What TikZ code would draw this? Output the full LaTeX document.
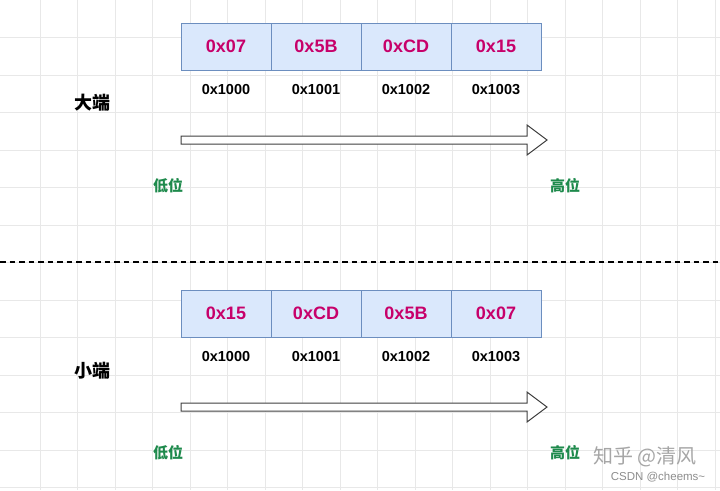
\documentclass[tikz,border=0pt]{standalone}
\usepackage{fontspec}
\setmainfont{Liberation Sans}
\newfontfamily\cjk{Noto Sans CJK SC}
\usetikzlibrary{positioning}
\definecolor{cellfill}{HTML}{DAE8FC}
\definecolor{celldraw}{HTML}{6C8EBF}
\definecolor{valtext}{HTML}{C7006A}
\definecolor{postext}{HTML}{1E8A4C}
\definecolor{gridline}{HTML}{E8E8E8}
\definecolor{marktext}{HTML}{A6A6A6}
\begin{document}
\begin{tikzpicture}[x=1pt,y=-1pt,
        cell/.style={draw=celldraw, fill=cellfill, line width=0.8pt,
            minimum width=90pt, minimum height=47pt, inner sep=0pt, outer sep=0pt,
            text=valtext, font=\fontsize{18}{20}\selectfont\bfseries},
        addr/.style={font=\fontsize{14.5}{16}\selectfont\bfseries},
        endian/.style={font=\cjk\fontsize{18}{20}\selectfont\bfseries},
        side/.style={text=postext, font=\cjk\fontsize{15}{17}\selectfont\bfseries},
        hollow/.style={draw=black!75, fill=white, line width=1pt, line join=miter}]
    % page and grid
    \fill[white] (0,0) rectangle (720,490);
    \useasboundingbox (0,0) rectangle (720,490);
    \foreach \x in {40,77.5,...,716}
        \draw[gridline, line width=0.6pt] (\x,0) -- (\x,490);
    \foreach \y in {37.5,75,...,488}
        \draw[gridline, line width=0.6pt] (0,\y) -- (720,\y);

    % big endian
    \node[cell] (big1) at (226,46.5) {0x07};
    \node[cell, right=0pt of big1] (big2) {0x5B};
    \node[cell, right=0pt of big2] (big3) {0xCD};
    \node[cell, right=0pt of big3] (big4) {0x15};
    \node[addr, below=11pt of big1] (bigaddr1) {0x1000};
    \node[addr, below=11pt of big2] (bigaddr2) {0x1001};
    \node[addr, below=11pt of big3] (bigaddr3) {0x1002};
    \node[addr, below=11pt of big4] (bigaddr4) {0x1003};
    \node[endian] (bigname) at (92,103) {大端};
    \coordinate (bigfrom) at (181,140);
    \coordinate (bigto) at (547,140);
    \draw[hollow] (bigfrom) ++(0,-4) -- ++(346,0) -- ++(0,-11) -- (bigto)
        -- ++(-20,15) -- ++(0,-11) -- ++(-346,0) -- cycle;
    \node[side] (biglow) at (168,186) {低位};
    \node[side] (bighigh) at (565,186) {高位};

    % cut
    \coordinate (cutleft) at (0,262);
    \coordinate (cutright) at (720,262);
    \draw[line width=1.6pt, dash pattern=on 5.5pt off 4pt] (cutleft) -- (cutright);

    % little endian
    \node[cell] (little1) at (226,313.5) {0x15};
    \node[cell, right=0pt of little1] (little2) {0xCD};
    \node[cell, right=0pt of little2] (little3) {0x5B};
    \node[cell, right=0pt of little3] (little4) {0x07};
    \node[addr, below=11pt of little1] (littleaddr1) {0x1000};
    \node[addr, below=11pt of little2] (littleaddr2) {0x1001};
    \node[addr, below=11pt of little3] (littleaddr3) {0x1002};
    \node[addr, below=11pt of little4] (littleaddr4) {0x1003};
    \node[endian] (littlename) at (92,371) {小端};
    \coordinate (littlefrom) at (181,407);
    \coordinate (littleto) at (547,407);
    \draw[hollow] (littlefrom) ++(0,-4) -- ++(346,0) -- ++(0,-11) -- (littleto)
        -- ++(-20,15) -- ++(0,-11) -- ++(-346,0) -- cycle;
    \node[side] (littlelow) at (168,453) {低位};
    \node[side] (littlehigh) at (565,453) {高位};

    % marks
    \node[text=marktext, font=\cjk\fontsize{20}{22}\selectfont] (zhihu) at (645,457) {知乎 @清风};
    \node[text=marktext!85!black, font=\fontsize{11.5}{13}\selectfont] (csdn) at (658,477) {CSDN @cheems\textasciitilde};
\end{tikzpicture}
\end{document}
